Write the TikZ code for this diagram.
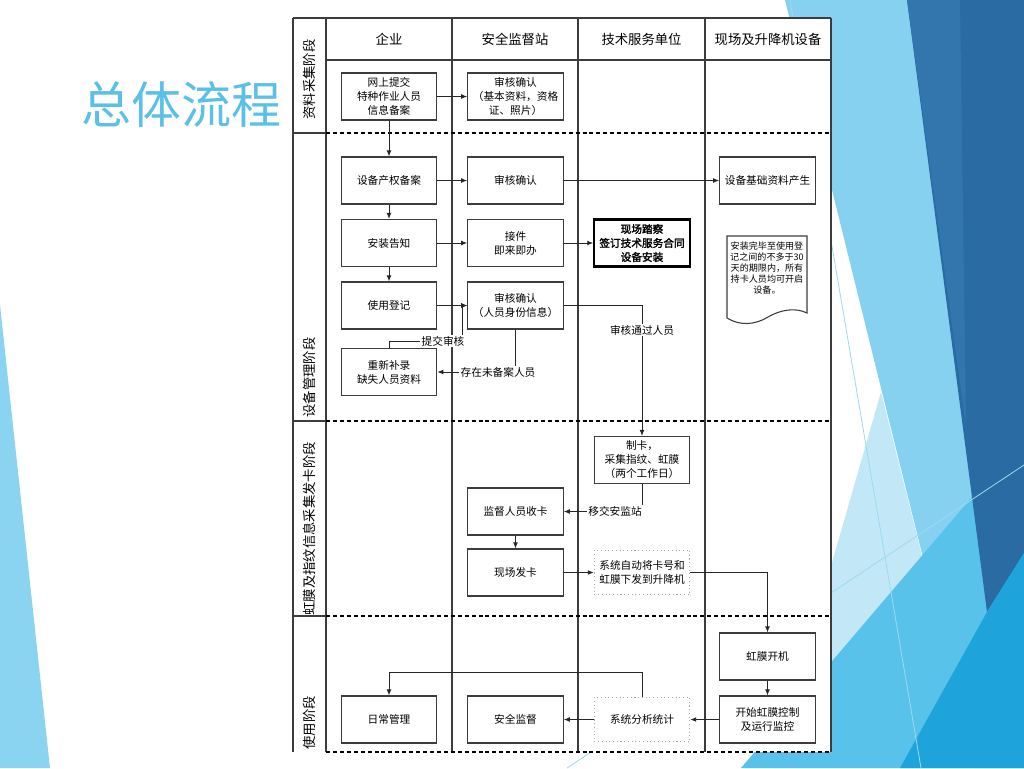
\documentclass[tikz,border=0pt]{standalone}
\usepackage{fontspec}
\setmainfont{Noto Sans CJK SC}[AutoFakeBold=2]
\usetikzlibrary{arrows.meta}

\definecolor{titleblue}{HTML}{5BC0E8}
\definecolor{leftblue}{HTML}{8BD4F1}
\definecolor{paleblue}{HTML}{86D1F0}
\definecolor{mistblue}{HTML}{C2E7F6}
\definecolor{midblue}{HTML}{58C2EA}
\definecolor{deepblue}{HTML}{2A6BA3}
\definecolor{deepblueB}{HTML}{3276AD}
\definecolor{brightblue}{HTML}{1FA3DB}
\definecolor{thinblue}{HTML}{9ED9F2}
\definecolor{linegray}{HTML}{3C3C3C}
\definecolor{dotgray}{HTML}{A8A8A8}

\begin{document}
\begin{tikzpicture}[
    x=0.75pt, y=-0.75pt,
    >={Latex[length=4.5pt,width=3.6pt]},
    box/.style={draw=linegray, line width=0.9pt, fill=white, minimum width=71.5pt, minimum height=35.2pt, align=center, inner sep=1pt, font=\fontsize{8}{10.5}\selectfont},
    keybox/.style={box, draw=black, line width=1.6pt, font=\fontsize{8}{10.5}\selectfont\bfseries},
    sysbox/.style={box, draw=dotgray, line width=0.8pt, dotted, minimum height=33.5pt},
    hdr/.style={font=\fontsize{10}{12}\selectfont},
    phase/.style={rotate=90, anchor=west, inner sep=1pt, font=\fontsize{10}{12}\selectfont},
    lbl/.style={fill=white, inner sep=1pt, font=\fontsize{8}{10}\selectfont},
    flow/.style={draw=black!85, line width=0.7pt, ->},
    frame/.style={draw=linegray, line width=1.1pt},
    sep/.style={draw=black, line width=1.5pt, dash pattern=on 3pt off 2.2pt}
]

% ============================================================
% SLIDE BACKGROUND (1024 x 768 px)
% ============================================================
\useasboundingbox (0,0) rectangle (1024,768);
\fill[white] (0,0) rectangle (1024,768);
\fill[leftblue] (0,305) -- (50,768) -- (0,768) -- cycle;
\fill[paleblue] (785,0) -- (1024,0) -- (1024,768) -- (975,768) -- cycle;
\fill[mistblue] (773,768) -- (881,392) -- (975,768) -- cycle;
\fill[midblue] (741,768) -- (1024,436) -- (1024,768) -- cycle;
\fill[deepblue] (907,0) -- (1024,0) -- (1024,553) -- (987,612) -- cycle;
\fill[deepblueB] (907,0) -- (960,0) -- (966,425) -- cycle;
\fill[brightblue] (987,612) -- (1024,553) -- (1024,768) -- (900,768) -- cycle;
\draw[thinblue, line width=0.6pt] (790,0) -- (921,768);
\draw[thinblue, line width=0.6pt] (567,768) -- (1024,465);

% title
\node[text=titleblue, font=\fontsize{37.5}{40}\selectfont] (title) at (181,104) {总体流程};

% ============================================================
% SWIMLANE FRAME
% Lanes: label 293-326, 企业 326-452, 安全监督站 452-578,
%        技术服务单位 578-705, 现场及升降机设备 705-831
% Phases: 18-133, 133-421, 421-616, 616-752
% ============================================================
\fill[white] (293,18) rectangle (831,752);
\draw[frame] (293,18) -- (831,18);
\draw[frame] (293,18) -- (293,752);
\draw[frame] (326,18) -- (326,752);
\draw[frame] (452,18) -- (452,752);
\draw[frame] (578,18) -- (578,752);
\draw[frame] (705,18) -- (705,752);
\draw[frame] (831,18) -- (831,752);
\draw[frame] (326,60) -- (831,60);
\draw[frame] (293,133) -- (326,133);
\draw[frame] (293,421) -- (326,421);
\draw[frame] (293,616) -- (326,616);
\draw[sep] (326,133) -- (831,133);
\draw[sep] (326,421) -- (831,421);
\draw[sep] (326,616) -- (831,616);
\draw[sep, line width=1.1pt] (326,752) -- (831,752);

% lane headers
\node[hdr] (hEnt) at (389,39) {企业};
\node[hdr] (hSup) at (515,39) {安全监督站};
\node[hdr] (hTec) at (641.5,39) {技术服务单位};
\node[hdr] (hSite) at (768,39) {现场及升降机设备};

% phase labels
\node[phase] (pData) at (309.5,121) {资料采集阶段};
\node[phase] (pDev) at (309.5,419) {设备管理阶段};
\node[phase] (pCard) at (309.5,617) {虹膜及指纹信息采集发卡阶段};
\node[phase] (pUse) at (309.5,751) {使用阶段};

% ============================================================
% PHASE 1: 资料采集
% ============================================================
\node[box] (sub) at (389,96.5) {网上提交\\特种作业人员\\信息备案};
\node[box] (chk1) at (515.5,96.5) {审核确认\\（基本资料，资格\\证、照片）};

% ============================================================
% PHASE 2: 设备管理
% ============================================================
\node[box] (own) at (389,180.5) {设备产权备案};
\node[box] (chk2) at (515.5,180.5) {审核确认};
\node[box] (base) at (767.5,180.5) {设备基础资料产生};
\node[box] (inst) at (389,243) {安装告知};
\node[box] (accept) at (515.5,243) {接件\\即来即办};
\node[keybox] (site) at (642,243) {现场踏察\\签订技术服务合同\\设备安装};
\node[box] (reg) at (389,305.5) {使用登记};
\node[box] (chk3) at (515.5,305.5) {审核确认\\（人员身份信息）};
\node[box] (redo) at (389,372) {重新补录\\缺失人员资料};

% note (document shape)
\draw[draw=linegray, line width=0.8pt, fill=white] (727,236) -- (807,236) -- (807,313)
    .. controls (795,307) and (780,310) .. (768,317)
    .. controls (755,325) and (740,326) .. (727,318) -- cycle;
\node[align=center, inner sep=0pt, font=\fontsize{6.8}{8.2}\selectfont] (memo) at (767,268)
    {安装完毕至使用登\\记之间的不多于30\\天的期限内，所有\\持卡人员均可开启\\设备。};

% ============================================================
% PHASE 3: 虹膜及指纹信息采集发卡
% ============================================================
\node[box] (card) at (642,460) {制卡，\\采集指纹、虹膜\\（两个工作日）};
\node[box] (take) at (515.5,511.5) {监督人员收卡};
\node[box] (issue) at (515.5,572.5) {现场发卡};
\node[sysbox] (push) at (642,572.5) {系统自动将卡号和\\虹膜下发到升降机};

% ============================================================
% PHASE 4: 使用
% ============================================================
\node[box] (boot) at (767.5,656.5) {虹膜开机};
\node[box] (ctrl) at (767.5,719.5) {开始虹膜控制\\及运行监控};
\node[box] (daily) at (389,719.5) {日常管理};
\node[box] (safe) at (515.5,719.5) {安全监督};
\node[sysbox] (stat) at (642,719.5) {系统分析统计};

% ============================================================
% CONNECTIONS
% ============================================================
\draw[flow] (sub) -- (own);
\draw[flow] (sub) -- (chk1);
\draw[flow] (own) -- (chk2);
\draw[flow] (chk2) -- (base);
\draw[flow] (own) -- (inst);
\draw[flow] (inst) -- (accept);
\draw[flow] (accept) -- (site);
\draw[flow] (inst) -- (reg);
\draw[flow] (reg) -- (chk3);

% resubmit loop back into 审核确认
\coordinate (resub) at (462,341);
\draw[flow] (redo.north) |- (resub) |- (chk3.west);
\node[lbl] (lResub) at (443,341) {提交审核};

% missing records
\draw[flow] (chk3.south) |- (redo.east);
\node[lbl] (lMiss) at (498,372) {存在未备案人员};

% approved -> card making
\draw[flow] (chk3.east) -| (card.north);
\node[lbl] (lPass) at (642,330) {审核通过人员};

% card handed to station
\draw[flow] (card.south) |- (take.east);
\node[lbl] (lHand) at (615,511.5) {移交安监站};

\draw[flow] (take) -- (issue);
\draw[flow] (issue) -- (push);
\draw[flow] (push.east) -| (boot.north);
\draw[flow] (boot) -- (ctrl);
\draw[flow] (ctrl) -- (stat);
\draw[flow] (stat) -- (safe);

% statistics back to daily management
\coordinate (back) at (642,672);
\draw[flow] (stat.north) -- (back) -| (daily.north);

\end{tikzpicture}
\end{document}
